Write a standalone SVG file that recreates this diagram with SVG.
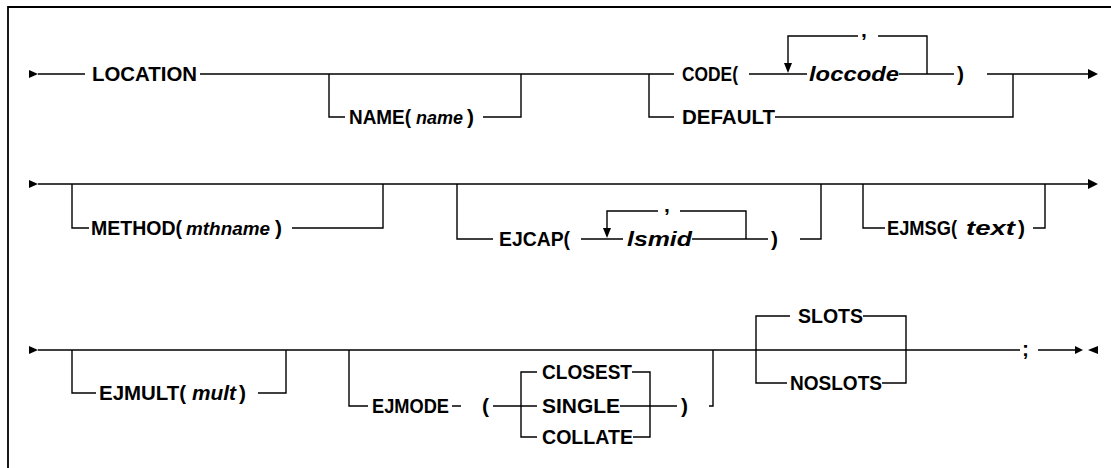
<svg xmlns="http://www.w3.org/2000/svg" width="1111" height="468" viewBox="0 0 1111 468">
<style>
text{font-family:"Liberation Sans",Arial,sans-serif;font-size:21px;font-weight:bold;fill:#000}
.it{font-style:italic}
.sm{font-size:19px}
.ln{fill:none;stroke:#000;stroke-width:1.4}
.ah{fill:#000}
</style>
<rect width="1111" height="468" fill="#fff"/>
<path d="M8 468V7H1111" fill="none" stroke="#000" stroke-width="1.8"/>
<g id="connectors">
<path class="ln" d="M38 74H85M200 74H674M329 74V117H345M483 117H521V74M649 74V117H674M775 117H1013V74M749 74H807M899 74H954M927 74V36H878M858 36H788V64M987 74H1088"/>
<polygon class="ah" points="29,70 38,74 29,78"/>
<polygon class="ah" points="1088,69 1098,74 1088,79"/>
<polygon class="ah" points="784,63 792,63 788,73"/>
<path class="ln" d="M38 184H1088M72 184V228H89M292 228H383V184M457 184V239H493M581 239H623M692 239H768M746 239V211H680M658 211H607V229M800 239H821V184M863 184V228H885M1033 228H1045V184"/>
<polygon class="ah" points="29,180 38,184 29,188"/>
<polygon class="ah" points="1088,179 1098,184 1088,189"/>
<polygon class="ah" points="603,228 611,228 607,238"/>
<path class="ln" d="M38 350H1020M72 350V393H96M258 393H286V350M349 350V406H368M452 406H461M493 406H537M620 406H677M537 372H521V437H537M632 372H650V437H633M709 406H713V350M790 316H756V383H787M863 316H906V383H882M1038 350H1075"/>
<polygon class="ah" points="29,346 38,350 29,354"/>
<polygon class="ah" points="1075,346 1083,350 1075,354"/>
<polygon class="ah" points="1098,346 1088,350 1098,354"/>
</g>
<g id="n-location"><text x="92" y="81" textLength="105" lengthAdjust="spacingAndGlyphs">LOCATION</text></g>
<g id="n-name">
<text x="349" y="124" textLength="62" lengthAdjust="spacingAndGlyphs">NAME(</text>
<text class="it sm" x="416" y="124" textLength="47" lengthAdjust="spacingAndGlyphs">name</text>
<text x="467" y="124">)</text>
</g>
<g id="n-code"><text x="682" y="81" textLength="56" lengthAdjust="spacingAndGlyphs">CODE(</text></g>
<g id="n-loccode"><text class="it" x="809" y="81" textLength="90" lengthAdjust="spacingAndGlyphs">loccode</text></g>
<g id="n-code-close"><text x="957" y="81">)</text></g>
<g id="n-code-sep"><text x="861" y="37">,</text></g>
<g id="n-default"><text x="682" y="124" textLength="93" lengthAdjust="spacingAndGlyphs">DEFAULT</text></g>
<g id="n-method">
<text x="91" y="235" textLength="91" lengthAdjust="spacingAndGlyphs">METHOD(</text>
<text class="it sm" x="186" y="235" textLength="84" lengthAdjust="spacingAndGlyphs">mthname</text>
<text x="275" y="235">)</text>
</g>
<g id="n-ejcap"><text x="499" y="246" textLength="71" lengthAdjust="spacingAndGlyphs">EJCAP(</text></g>
<g id="n-lsmid"><text class="it" x="627" y="246" textLength="65" lengthAdjust="spacingAndGlyphs">lsmid</text></g>
<g id="n-ejcap-close"><text x="771" y="246">)</text></g>
<g id="n-ejcap-sep"><text x="664" y="212">,</text></g>
<g id="n-ejmsg">
<text x="887" y="235" textLength="70" lengthAdjust="spacingAndGlyphs">EJMSG(</text>
<text class="it" x="966" y="235" textLength="49" lengthAdjust="spacingAndGlyphs">text</text>
<text x="1018" y="235">)</text>
</g>
<g id="n-ejmult">
<text x="99" y="400" textLength="87" lengthAdjust="spacingAndGlyphs">EJMULT(</text>
<text class="it" x="192" y="400" textLength="44" lengthAdjust="spacingAndGlyphs">mult</text>
<text x="239" y="400">)</text>
</g>
<g id="n-ejmode"><text x="372" y="413" textLength="77" lengthAdjust="spacingAndGlyphs">EJMODE</text></g>
<g id="n-ejmode-open"><text x="482" y="413">(</text></g>
<g id="n-closest"><text x="542" y="379" textLength="90" lengthAdjust="spacingAndGlyphs">CLOSEST</text></g>
<g id="n-single"><text x="542" y="413" textLength="78" lengthAdjust="spacingAndGlyphs">SINGLE</text></g>
<g id="n-collate"><text x="542" y="444" textLength="91" lengthAdjust="spacingAndGlyphs">COLLATE</text></g>
<g id="n-ejmode-close"><text x="681" y="413">)</text></g>
<g id="n-slots"><text x="798" y="323" textLength="65" lengthAdjust="spacingAndGlyphs">SLOTS</text></g>
<g id="n-noslots"><text x="790" y="390" textLength="92" lengthAdjust="spacingAndGlyphs">NOSLOTS</text></g>
<g id="n-semicolon"><text x="1022" y="356">;</text></g>
</svg>
